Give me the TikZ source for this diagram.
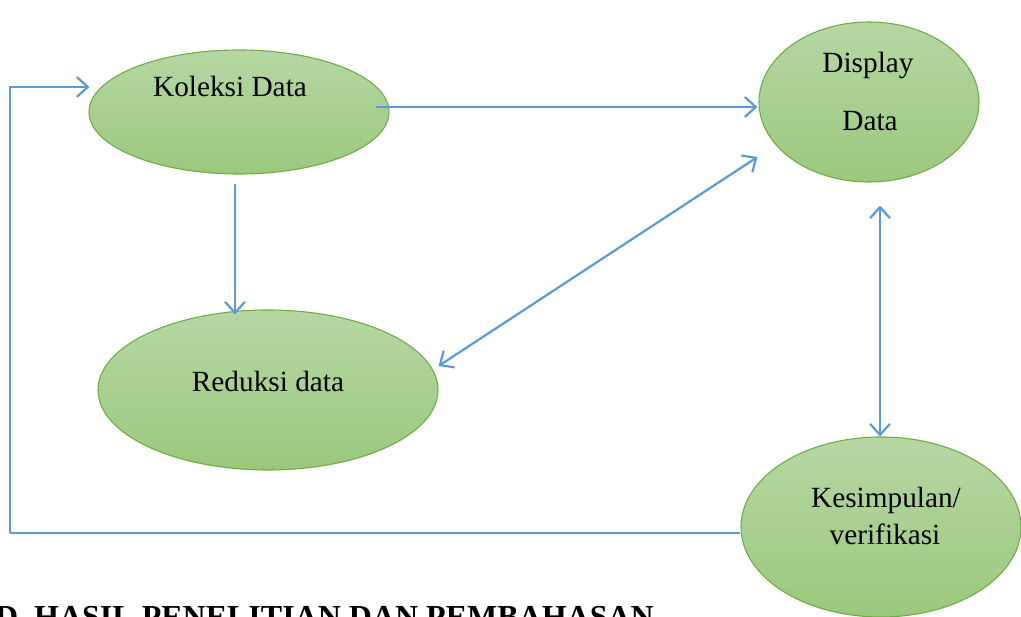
\documentclass[tikz,border=0pt]{standalone}
\usepackage{fontspec}
\setmainfont{Liberation Serif}
\usetikzlibrary{shapes.geometric,arrows.meta}
\definecolor{arrowblue}{HTML}{5B9BD5}
\definecolor{ellborder}{HTML}{70AD47}
\definecolor{elltop}{HTML}{B6D7A4}
\definecolor{ellbot}{HTML}{9BC87D}
\tikzset{
  ell/.style={ellipse, draw=ellborder, line width=1.1pt, top color=elltop, bottom color=ellbot, inner sep=0pt},
  lbl/.style={anchor=base, font=\fontsize{29.3}{34}\selectfont, inner sep=0pt},
  arr/.style={draw=arrowblue, line width=2.2pt, -{Straight Barb[length=11pt,width=20pt]}},
  darr/.style={draw=arrowblue, line width=2.2pt, {Straight Barb[length=11pt,width=20pt]}-{Straight Barb[length=11pt,width=20pt]}},
  fb/.style={draw=arrowblue, line width=1.4pt},
  fbarr/.style={draw=arrowblue, line width=1.4pt, -{Straight Barb[length=11pt,width=20pt,line width=2.2pt]}},
  head/.style={anchor=base west, font=\bfseries\fontsize{32}{36}\selectfont, inner sep=0pt}
}
\begin{document}
\begin{tikzpicture}[x=1pt,y=-1pt]
\useasboundingbox (0,0) rectangle (1021,617);
% ellipses
\node[ell, minimum width=300pt, minimum height=124pt] (kol) at (239,112) {};
\node[ell, minimum width=220pt, minimum height=160pt] (disp) at (869,102) {};
\node[ell, minimum width=340pt, minimum height=160pt] (red) at (268,390) {};
\node[ell, minimum width=280pt, minimum height=180pt] (kes) at (881,527) {};
% labels
\node[lbl] (tkol) at (230,97) {Koleksi Data};
\node[lbl] (tdisp1) at (868,73) {Display};
\node[lbl] (tdisp2) at (870,131) {Data};
\node[lbl] (tred) at (268,392) {Reduksi data};
\node[lbl] (tkes1) at (886,508) {Kesimpulan/};
\node[lbl] (tkes2) at (885,545) {verifikasi};
% connectors
\draw[arr] ([shift={(-14,-5)}]kol.east) -- ([shift={(-1,5)}]disp.west);
\draw[arr] ([shift={(-4,9)}]kol.south) -- ([shift={(-33,5)}]red.north);
\draw[darr] ([shift={(-1,55)}]disp.west) -- ([shift={(0,-24)}]red.east);
\draw[darr] ([shift={(11,23)}]disp.south) -- ([shift={(-1,0)}]kes.north);
\coordinate (fbcorner) at (10,533);
\draw[fb] ([shift={(0,6)}]kes.west) -- (fbcorner);
\draw[fbarr] (fbcorner) |- ([shift={(1,-25)}]kol.west);
% heading (cut off at bottom)
\node[head] (hd) at (-5,627) {D.};
\node[head] (ht) at (34,627) {HASIL PENELITIAN DAN PEMBAHASAN};
\end{tikzpicture}
\end{document}
